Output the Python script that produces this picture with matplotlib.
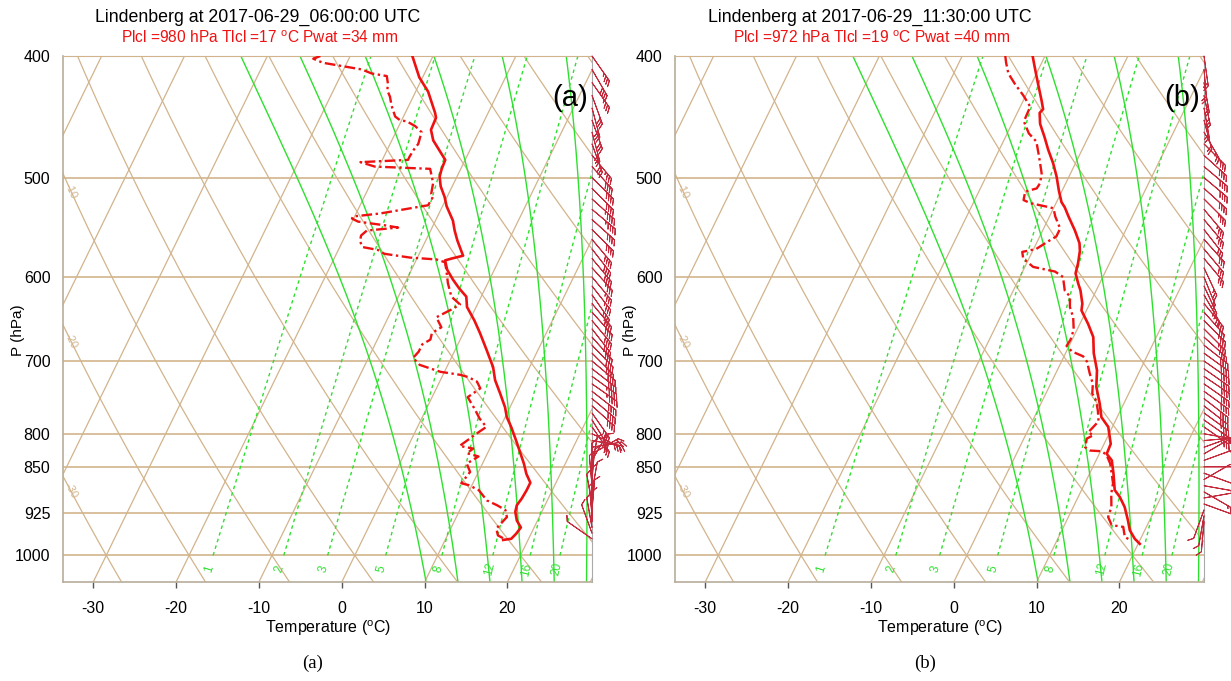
import numpy as np
import matplotlib
matplotlib.use("Agg")
import matplotlib.pyplot as plt

plt.rcParams["font.family"] = ["Liberation Sans", "DejaVu Sans"]
plt.rcParams["mathtext.default"] = "regular"

W, H = 1231, 681

# ---------------- panel (a): 2017-06-29 06:00 UTC ----------------
A_T_P = [400, 416, 427, 444, 448, 458, 467, 484, 492, 499, 508, 518, 527, 541, 551, 561,
         572, 577, 580, 582, 592, 603, 613, 622, 634, 650, 665, 686, 708, 725, 743, 762,
         776, 790, 810, 825, 845, 861, 875, 887, 901, 912, 923, 938, 950, 961, 970, 972]
A_T = [-22.5, -20.4, -18.5, -16.4, -16.0, -15.9, -15.0, -12.4, -12.3, -12.1, -11.4, -10.3,
       -9.5, -7.9, -7.1, -6.2, -5.1, -4.6, -5.8, -6.5, -5.7, -4.4, -3.1, -1.8, -1.1, 0.6,
       2.0, 3.8, 5.6, 6.6, 8.0, 9.4, 10.2, 11.3, 12.7, 13.7, 15.0, 15.9, 16.9, 16.9, 16.8,
       16.6, 16.8, 17.5, 18.4, 18.2, 17.9, 17.0]
A_TD_P = [400, 402, 405, 410, 413, 415, 421, 426, 431, 438, 447, 450, 451, 455, 460, 470,
          475, 481, 484, 486, 490, 492, 505, 515, 518, 526, 534, 537, 539, 542, 546, 548,
          551, 556, 562, 568, 571, 575, 579, 581, 584, 592, 607, 622, 631, 636, 646, 658,
          665, 673, 679, 688, 696, 705, 714, 718, 721, 727, 736, 748, 764, 778, 790, 800,
          807, 818, 822, 829, 834, 845, 858, 876, 879, 887, 904, 912, 920, 932, 952, 964, 969]
A_TD = [-33.6, -34.3, -32.9, -27.8, -26.4, -24.4, -23.8, -23.5, -22.8, -22.1, -21.0, -20.2,
        -19.3, -18.0, -16.9, -16.6, -16.8, -16.9, -16.9, -22.5, -20.5, -13.7, -12.5, -12.1,
        -11.7, -11.8, -17.1, -20.2, -20.2, -19.3, -15.6, -14.1, -17.7, -18.1, -17.9, -17.2,
        -15.2, -14.2, -10.9, -7.6, -6.4, -5.8, -4.8, -3.6, -2.1, -2.7, -4.2, -3.0, -3.8,
        -3.6, -4.3, -4.3, -4.6, -3.4, -0.5, 2.1, 3.2, 4.5, 5.3, 4.3, 5.8, 7.0, 8.3, 7.5,
        7.0, 6.2, 8.0, 7.5, 9.1, 8.1, 9.0, 8.6, 9.6, 11.1, 12.7, 14.2, 15.5, 16.1, 15.5,
        16.1, 16.9]
A_W_P = list(range(400, 980, 10))
A_W_DIR = [145, 150, 145,
           160, 165, 160, 165, 160,
           140, 138, 135, 135, 132, 130, 132, 135,
           140, 142, 140, 138,
           140, 142, 145, 140, 138, 140, 142, 138, 136, 135,
           130, 128, 126, 125, 128, 130, 132,
           145, 148, 145,
           115, 100, 80,
           60, 30,
           10, 0, 5, 355, 10, 0, 350, 5, 355, 0, 350, 340, 305]
A_W_SPD = [35, 38, 35,
           30, 28, 30, 28, 30,
           35, 40, 40, 42, 45, 45, 42, 40,
           40, 38, 38, 36,
           35, 35, 35, 38, 38, 40, 40, 42, 42, 40,
           40, 42, 45, 45, 42, 40, 38,
           35, 32, 30,
           30, 25, 20,
           15, 12,
           10, 10, 12, 12, 10, 10, 8, 8, 10, 10, 8, 8, 10]

# ---------------- panel (b): 2017-06-29 11:30 UTC ----------------
B_T_P = [400, 410, 421, 434, 441, 444, 453, 464, 475, 487, 499, 512, 523, 528, 537, 551,
         564, 572, 585, 596, 607, 615, 630, 638, 654, 670, 690, 712, 734, 757, 776, 790,
         815, 830, 840, 861, 887, 898, 915, 938, 955, 970, 979]
B_T = [-21.5, -20.4, -19.2, -17.8, -17.1, -17.3, -16.6, -15.3, -14.1, -12.7, -11.5, -10.4,
       -9.4, -8.7, -7.7, -6.1, -4.8, -4.3, -3.8, -3.5, -2.6, -1.9, -0.9, -0.6, 1.0, 2.4,
       3.4, 4.8, 5.7, 7.1, 8.1, 9.5, 10.8, 10.9, 11.9, 12.9, 14.0, 15.0, 16.2, 17.4, 18.2,
       19.3, 20.2]
B_TD_P = [400, 405, 413, 421, 430, 439, 451, 461, 468, 481, 496, 505, 510, 513, 521, 524,
          528, 529, 537, 549, 557, 562, 570, 573, 580, 589, 594, 600, 615, 622, 634, 646,
          661, 673, 681, 688, 694, 701, 716, 730, 743, 753, 767, 782, 798, 802, 807, 820,
          825, 826, 831, 845, 876, 893, 915, 932, 946, 949, 967, 973]
B_TD = [-24.8, -24.3, -23.4, -22.0, -20.3, -18.8, -18.7, -17.4, -16.0, -14.8, -13.5, -13.1,
        -13.2, -14.4, -14.1, -13.1, -10.5, -10.0, -9.3, -8.0, -8.0, -8.7, -9.7, -11.2,
        -10.7, -9.0, -6.1, -4.8, -3.8, -2.8, -2.2, -1.2, -0.4, -0.2, -0.3, 0.7, 2.3, 3.1,
        4.1, 5.1, 5.6, 6.5, 7.3, 8.0, 7.4, 8.2, 7.6, 7.9, 8.7, 10.1, 10.9, 11.9, 13.4,
        13.8, 14.6, 14.8, 15.7, 17.2, 18.0, 19.0]
B_W_P = list(range(400, 950, 10))
B_W_DIR = [172, 175, 170, 168, 170, 165,
           150,
           135, 132, 130, 130, 132, 135,
           140, 140, 142, 138, 140, 140,
           155, 158, 155, 150,
           140, 138, 135, 135, 132,
           128, 126, 125, 125, 124, 125, 126, 128, 128, 126, 125, 125,
           100, 85, 70, 60,
           70, 90, 110, 60, 100, 120, 80, 110,
           200, 190, 185]
B_W_SPD = [20, 22, 25, 25, 22, 20,
           25,
           35, 38, 40, 40, 38, 35,
           35, 35, 32, 32, 30, 30,
           25, 22, 22, 25,
           30, 32, 35, 35, 35,
           38, 40, 40, 42, 42, 40, 40, 38, 38, 36, 35, 35,
           30, 25, 20, 18,
           15, 15, 12, 12, 15, 15, 12, 10,
           10, 10, 12]

TITLES = ["Lindenberg at 2017-06-29_06:00:00 UTC", "Lindenberg at 2017-06-29_11:30:00 UTC"]
SUBTITLES = ["Plcl =980 hPa Tlcl =17 $^o$C Pwat =34 mm",
             "Plcl =972 hPa Tlcl =19 $^o$C Pwat =40 mm"]
TAGS = ["(a)", "(b)"]

# background of the NCL skew-T diagram
ISOTHERMS = list(range(-100, 60, 10))
DRY_ADIABATS = list(range(-40, 130, 10))      # theta in degC
DRY_LABELS = [-10, -20, -30]
MOIST_ADIABATS = [8, 12, 16, 20, 24, 28]       # theta-w in degC
MIXING_RATIOS = [1, 2, 3, 5, 8, 12, 16, 20]    # g/kg
ISOBARS = [400, 500, 600, 700, 800, 850, 925, 1000]
T_TICKS = [-30, -20, -10, 0, 10, 20]

P_TOP, P_BOT = 400.0, 1050.0
T_LEFT, T_RIGHT = -33.65, 30.2   # temperatures at the bottom edge

TAN = "#d2b48c"
GREEN = "#2ee02e"
RED = "#ee1111"
BARB = "#c42a3c"


def sk_y(p):
    return 132.182 - 44.061 * np.log10(np.asarray(p, float))


def sk_x(t, p):
    return 0.54 * np.asarray(t, float) + 0.90692 * sk_y(p)


def mixr_temp(w, p):
    x = np.log10(w * p / (622.0 + w))
    return (10 ** (0.0498646455 * x + 2.4082965) - 280.23475
            + 38.9114 * (10 ** (0.0915 * x) - 1.2035) ** 2)


def _dtdp(p, T):
    tc = T - 273.15
    es = 6.112 * np.exp(17.67 * tc / (tc + 243.5))
    rs = 0.622 * es / (p - es)
    return (287.04 * T + 2.501e6 * rs) / (1005.7 + 2.501e6 ** 2 * rs * 0.622 / (287.04 * T * T)) / p


def _integrate(tw, p_end, n=200):
    ps = np.linspace(1000.0, p_end, n)
    T = np.empty(n)
    T[0] = tw + 273.15
    for i in range(n - 1):
        h = ps[i + 1] - ps[i]
        k1 = _dtdp(ps[i], T[i])
        k2 = _dtdp(ps[i] + h / 2, T[i] + h / 2 * k1)
        k3 = _dtdp(ps[i] + h / 2, T[i] + h / 2 * k2)
        k4 = _dtdp(ps[i + 1], T[i] + h * k3)
        T[i + 1] = T[i] + h / 6 * (k1 + 2 * k2 + 2 * k3 + k4)
    return ps, T - 273.15


def pseudo_adiabat(tw):
    pu, tu = _integrate(tw, 390.0)
    pd, td = _integrate(tw, 1060.0, 40)
    return np.concatenate([pd[::-1], pu[1:]]), np.concatenate([td[::-1], tu[1:]])


def screen_angle(ax, x0, y0, x1, y1):
    a = ax.transData.transform([(x0, y0), (x1, y1)])
    return np.degrees(np.arctan2(a[1, 1] - a[0, 1], a[1, 0] - a[0, 0]))


def draw_panel(ax, t_p, t_val, td_p, td_val, w_p, w_dir, w_spd):
    xmin, xmax = float(sk_x(T_LEFT, P_BOT)), float(sk_x(T_RIGHT, P_BOT))
    ymin, ymax = float(sk_y(P_BOT)), float(sk_y(P_TOP))
    ax.set_xlim(xmin, xmax)
    ax.set_ylim(ymin, ymax)

    pp = np.linspace(P_TOP - 5, P_BOT + 5, 200)
    for t in ISOTHERMS:
        ax.plot(sk_x([t, t], [P_BOT, P_TOP]), sk_y([P_BOT, P_TOP]), color=TAN, lw=0.9, zorder=1)
    for th in DRY_ADIABATS:
        tt = (th + 273.15) * (pp / 1000.0) ** 0.2857 - 273.15
        ax.plot(sk_x(tt, pp), sk_y(pp), color=TAN, lw=0.9, zorder=1)
    for p in ISOBARS:
        ax.axhline(float(sk_y(p)), color=TAN, lw=1.2, zorder=1)

    # dry adiabat labels along the left edge
    for th in DRY_LABELS:
        tt = (th + 273.15) * (pp / 1000.0) ** 0.2857 - 273.15
        xs = sk_x(tt, pp)
        xl = xmin + 0.5
        pl = np.interp(xl, xs, pp)
        yl = float(sk_y(pl))
        p2 = pl + 20
        ang = screen_angle(ax, xl, yl, float(sk_x((th + 273.15) * (p2 / 1000.0) ** 0.2857 - 273.15, p2)),
                           float(sk_y(p2)))
        ax.text(xl, yl, str(th), color=TAN, fontsize=8, rotation=ang, ha="center", va="center",
                rotation_mode="anchor", zorder=2)

    for tw in MOIST_ADIABATS:
        pm, tm = pseudo_adiabat(tw)
        ax.plot(sk_x(tm, pm), sk_y(pm), color=GREEN, lw=1.0, zorder=2)

    pw = np.linspace(1000.0, 400.0, 80)
    for w in MIXING_RATIOS:
        ax.plot(sk_x(mixr_temp(w, pw), pw), sk_y(pw), color=GREEN, lw=1.0,
                ls=(0, (2.5, 2.5)), zorder=2)
        pl = 1026.0
        xl, yl = float(sk_x(mixr_temp(w, pl), pl)), float(sk_y(pl))
        ang = screen_angle(ax, float(sk_x(mixr_temp(w, 1000.0), 1000.0)), float(sk_y(1000.0)),
                           float(sk_x(mixr_temp(w, 700.0), 700.0)), float(sk_y(700.0)))
        ax.text(xl, yl, str(w), color=GREEN, fontsize=8.5, rotation=ang, ha="center", va="center",
                rotation_mode="anchor", zorder=2)

    # sounding
    ax.plot(sk_x(t_val, t_p), sk_y(t_p), color=RED, lw=1.9, zorder=5, solid_joinstyle="round")
    ax.plot(sk_x(td_val, td_p), sk_y(td_p), color=RED, lw=1.7, zorder=5,
            ls=(0, (4.5, 1.5, 1.0, 1.5)))

    # wind barbs outside the right edge
    d = np.deg2rad(np.asarray(w_dir, float))
    s = np.asarray(w_spd, float)
    u, v = -s * np.sin(d), -s * np.cos(d)
    ax.barbs(np.full(len(w_p), xmax), sk_y(w_p), u, v, length=6.6, color=BARB, linewidth=0.7,
             sizes=dict(height=0.16, spacing=0.1, width=0.25), clip_on=False, zorder=6)

    # axes decoration
    ax.set_yticks(sk_y(ISOBARS))
    ax.set_yticklabels([str(p) for p in ISOBARS], fontsize=11.5)
    ax.tick_params(axis="y", length=0, pad=9)
    ax.set_xticks(sk_x(T_TICKS, P_BOT))
    ax.set_xticklabels([str(t) for t in T_TICKS], fontsize=11.5)
    ax.tick_params(axis="x", direction="out", length=4.5, width=1, color="#555555", pad=9)
    for side in ["left", "bottom"]:
        ax.spines[side].set_color("#b8ad9c")
        ax.spines[side].set_linewidth(1.2)
    ax.spines["top"].set_color(TAN)
    ax.spines["right"].set_color("#aaaaaa")


fig = plt.figure(figsize=(W / 100, H / 100), dpi=100)

panels = [
    (63, A_T_P, A_T, A_TD_P, A_TD, A_W_P, A_W_DIR, A_W_SPD),
    (675, B_T_P, B_T, B_TD_P, B_TD, B_W_P, B_W_DIR, B_W_SPD),
]
for i, (left, tp, tv, dp, dv, wp, wd, ws) in enumerate(panels):
    ax = fig.add_axes([left / W, 1 - 582 / H, 529 / W, 526 / H])
    draw_panel(ax, tp, tv, dp, dv, wp, wd, ws)
    fig.text((left + 195) / W, 1 - 17 / H, TITLES[i], fontsize=12.8, ha="center", va="center")
    fig.text((left + 197) / W, 1 - 38 / H, SUBTITLES[i], fontsize=11.2, color=RED,
             ha="center", va="center")
    fig.text((left + 507) / W, 1 - 98 / H, TAGS[i], fontsize=21, ha="center", va="center")
    fig.text((left - 45) / W, 1 - 330 / H, "P (hPa)", fontsize=11, rotation=90,
             ha="center", va="center")
    fig.text((left + 265) / W, 1 - 628 / H, "Temperature ($^o$C)", fontsize=11.5,
             ha="center", va="center")
    fig.text((left + 250) / W, 1 - 663 / H, TAGS[i], fontsize=13.5, family="Liberation Serif",
             ha="center", va="center")

fig.savefig("out.png", dpi=100)
